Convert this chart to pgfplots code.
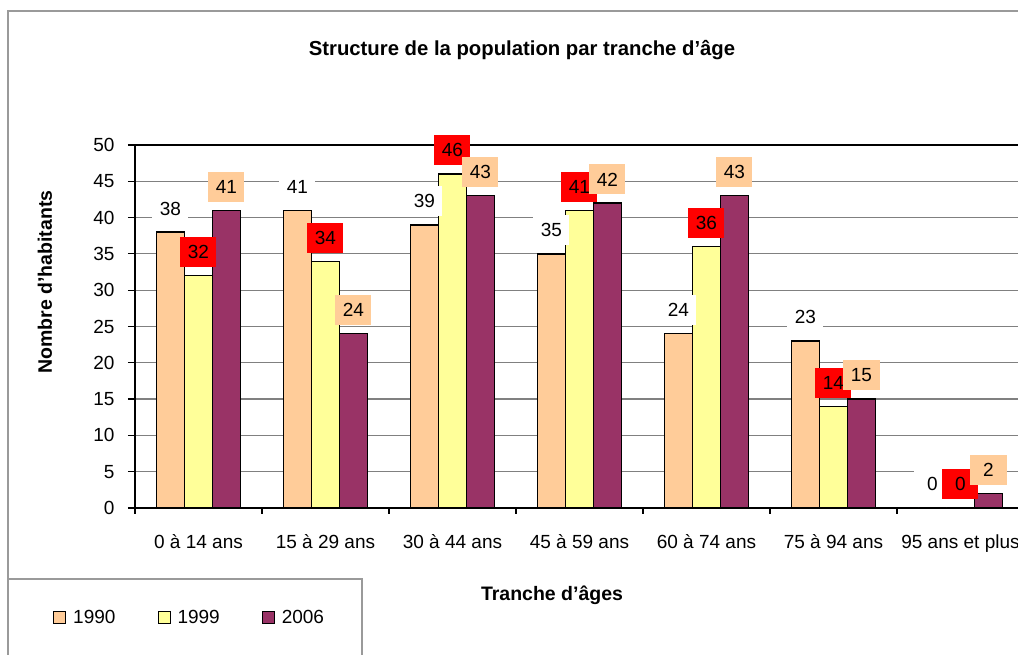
\documentclass[border=0pt]{standalone}
\usepackage{pgfplots}
\pgfplotsset{compat=1.18}
\usepackage{fontspec}
\setmainfont{Liberation Sans}
\definecolor{cA}{HTML}{FFCC99}
\definecolor{cB}{HTML}{FFFF99}
\definecolor{cC}{HTML}{993366}
\definecolor{gridc}{HTML}{808080}
\definecolor{framec}{HTML}{9A9A9A}
\newcommand{\rf}{\fontsize{19}{22}\selectfont}
\newcommand{\bfn}{\fontsize{19.5}{22}\selectfont\bfseries}
\begin{document}
\begin{tikzpicture}[x=1pt,y=1pt]
\begin{axis}[
  width=889pt, height=363pt, scale only axis,
  ybar=0pt, bar width=28pt,
  xmin=-0.5, xmax=6.5, ymin=0, ymax=50,
  clip=false,
  ytick={0,5,...,50},
  xtick={0,...,6},
  xticklabels={0 à 14 ans, 15 à 29 ans, 30 à 44 ans, 45 à 59 ans, 60 à 74 ans, 75 à 94 ans, 95 ans et plus},
  minor xtick={-0.5,0.5,...,6.5},
  tick align=outside, tick pos=left,
  major tick length=7pt, minor tick length=6pt,
  tick style={black, line width=1.2pt},
  major x tick style={draw=none},
  ymajorgrids, major grid style={gridc, line width=1.2pt},
  axis line style={black, line width=1.5pt},
  /pgf/number format/assume math mode=true,
  tick label style={font=\rf},
  yticklabel style={xshift=-10pt},
  xticklabel style={yshift=-16pt},
  every node near coord/.append style={font=\rf, anchor=south, yshift=8pt, minimum width=36pt, minimum height=30pt, inner sep=0pt},
  legend style={at={(axis description cs:-0.0922,-0.3030)}, anchor=west, draw=none, fill=none, inner sep=0pt, font=\rf, legend columns=3, /tikz/every odd column/.append style={column sep=5pt}, /tikz/every even column/.append style={column sep=40pt}},
  legend image code/.code={\draw[#1,draw=black,line width=1pt] (0pt,-6pt) rectangle (12pt,6pt);},
]
\coordinate (O) at (rel axis cs:0,0);
\addplot[fill=cA, draw=black, line width=1.3pt, nodes near coords, every node near coord/.append style={fill=white}]
  coordinates {(0,38) (1,41) (2,39) (3,35) (4,24) (5,23) (6,0)};
\addplot[fill=cB, draw=black, line width=1.3pt, nodes near coords, every node near coord/.append style={fill=red}]
  coordinates {(0,32) (1,34) (2,46) (3,41) (4,36) (5,14) (6,0)};
\addplot[fill=cC, draw=black, line width=1.3pt, nodes near coords, every node near coord/.append style={fill=cA}]
  coordinates {(0,41) (1,24) (2,43) (3,42) (4,43) (5,15) (6,2)};
\legend{1990,1999,2006}
\end{axis}
\begin{scope}[shift={(O)}, shift={(-135,-147)}]
\draw[framec, line width=1.2pt] (8,-10) -- (8,644) -- (1040,644);
\draw[framec, line width=1.2pt] (8,-10) rectangle (362,76);
\node[font=\fontsize{20.3}{24}\selectfont\bfseries] at (522,605) {Structure de la population par tranche d'âge};
\node[font=\bfn, rotate=90] at (45,373) {Nombre d'habitants};
\node[font=\bfn] at (552,60) {Tranche d'âges};
\end{scope}
\pgfresetboundingbox
\path[use as bounding box] ([shift={(-135,-147)}]O) rectangle ([shift={(883,508)}]O);
\end{tikzpicture}
\end{document}
